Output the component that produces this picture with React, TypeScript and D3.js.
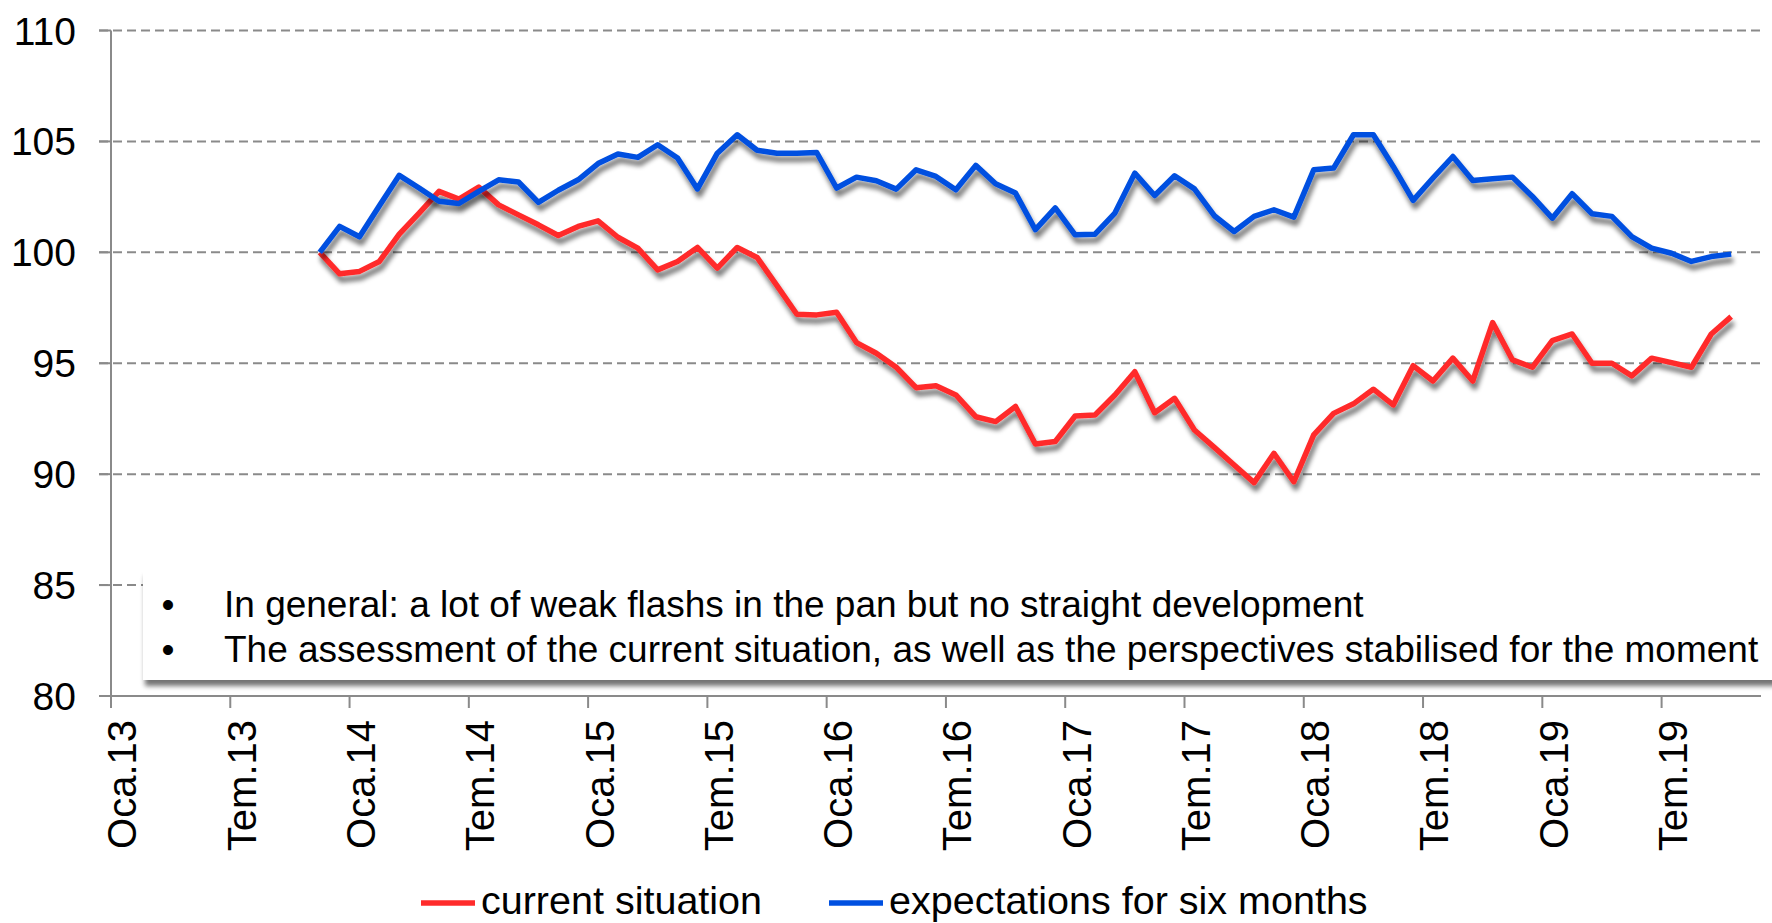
import React, { useEffect, useRef } from 'react'
import * as d3 from 'd3'

// months counted from Jan 2013 (0); data runs Nov 2013 .. Oct 2019
const firstMonth = 10
const tickLabels = ['Oca.13', 'Tem.13', 'Oca.14', 'Tem.14', 'Oca.15', 'Tem.15', 'Oca.16',
  'Tem.16', 'Oca.17', 'Tem.17', 'Oca.18', 'Tem.18', 'Oca.19', 'Tem.19']
const yTicks = [80, 85, 90, 95, 100, 105, 110]

const currentSituation = [
  100.0, 99.03, 99.14, 99.59, 100.82, 101.77, 102.75, 102.4, 102.94, 102.14, 101.69, 101.24,
  100.76, 101.17, 101.42, 100.68, 100.19, 99.21, 99.59, 100.22, 99.29, 100.22, 99.77, 98.5,
  97.21, 97.18, 97.3, 95.93, 95.45, 94.82, 93.9, 93.99, 93.57, 92.59, 92.37, 93.05,
  91.36, 91.47, 92.62, 92.67, 93.57, 94.62, 92.77, 93.42, 91.99, 91.21, 90.41, 89.62,
  90.94, 89.66, 91.77, 92.74, 93.17, 93.83, 93.12, 94.89, 94.2, 95.23, 94.2, 96.83,
  95.15, 94.82, 96.02, 96.32, 95.0, 95.0, 94.43, 95.23, 95.03, 94.82, 96.32, 97.1
]
const expectations = [
  100.0, 101.17, 100.7, 102.1, 103.47, 102.9, 102.3, 102.2, 102.75, 103.27, 103.17, 102.25,
  102.8, 103.27, 104.0, 104.43, 104.28, 104.85, 104.25, 102.86, 104.47, 105.3, 104.6, 104.47,
  104.47, 104.5, 102.9, 103.39, 103.23, 102.85, 103.72, 103.42, 102.82, 103.92, 103.09, 102.67,
  101.02, 102.0, 100.79, 100.82, 101.77, 103.57, 102.56, 103.45, 102.86, 101.65, 100.94, 101.62,
  101.92, 101.59, 103.72, 103.8, 105.3, 105.3, 103.87, 102.34, 103.35, 104.32, 103.24, 103.32,
  103.39, 102.52, 101.54, 102.64, 101.74, 101.62, 100.71, 100.19, 99.96, 99.59, 99.81, 99.92
]
const seriesNames = ['current situation', 'expectations for six months']
const seriesColors = ['#ff2b2b', '#0050e0']
const notes = [
  'In general: a lot of weak flashs in the pan but no straight development',
  'The assessment of the current situation, as well as the perspectives stabilised for the moment'
]

const W = 1772
const H = 923
const FONT = '"Liberation Sans", Arial, sans-serif'

export default function App() {
  const ref = useRef<SVGSVGElement>(null)

  useEffect(() => {
    const svg = d3.select(ref.current)
    svg.selectAll('*').remove()

    const x = d3.scaleLinear().domain([0, 83]).range([111, 1761])
    const y = d3.scaleLinear().domain([80, 110]).range([696, 30.5])

    // soft grey drop shadow under the lines and the note box
    const f = svg.append('defs').append('filter')
      .attr('id', 'shadow')
      .attr('filterUnits', 'userSpaceOnUse')
      .attr('x', 0).attr('y', 0).attr('width', W).attr('height', H)
    f.append('feGaussianBlur').attr('in', 'SourceAlpha').attr('stdDeviation', 2.5).attr('result', 'blur')
    f.append('feOffset').attr('in', 'blur').attr('dx', 2).attr('dy', 6).attr('result', 'off')
    f.append('feComponentTransfer').attr('in', 'off').attr('result', 'shade')
      .append('feFuncA').attr('type', 'linear').attr('slope', 0.55)
    const merge = f.append('feMerge')
    merge.append('feMergeNode').attr('in', 'shade')
    merge.append('feMergeNode').attr('in', 'SourceGraphic')

    // horizontal grid
    svg.append('g')
      .selectAll('line')
      .data(yTicks.filter(d => d > 80))
      .join('line')
      .attr('x1', 99).attr('x2', 1761)
      .attr('y1', d => y(d)).attr('y2', d => y(d))
      .attr('stroke', '#8a8a8a').attr('stroke-width', 2)
      .attr('stroke-dasharray', '9,5')

    // y axis
    svg.append('line')
      .attr('x1', x(0)).attr('x2', x(0)).attr('y1', y(110)).attr('y2', y(80))
      .attr('stroke', '#8a8a8a').attr('stroke-width', 2)
    svg.append('g')
      .selectAll('line')
      .data(yTicks)
      .join('line')
      .attr('x1', 99).attr('x2', x(0))
      .attr('y1', d => y(d)).attr('y2', d => y(d))
      .attr('stroke', '#8a8a8a').attr('stroke-width', 2)
    svg.append('g')
      .selectAll('text')
      .data(yTicks)
      .join('text')
      .attr('x', 76).attr('y', d => y(d)).attr('dy', '0.36em')
      .attr('text-anchor', 'end')
      .attr('font-family', FONT).attr('font-size', 39)
      .text(d => d)

    // x axis
    svg.append('line')
      .attr('x1', x(0)).attr('x2', x(83)).attr('y1', y(80)).attr('y2', y(80))
      .attr('stroke', '#8a8a8a').attr('stroke-width', 2)
    const xt = svg.append('g')
      .selectAll('g')
      .data(tickLabels)
      .join('g')
    xt.append('line')
      .attr('x1', (d, i) => x(i * 6)).attr('x2', (d, i) => x(i * 6))
      .attr('y1', y(80)).attr('y2', y(80) + 12)
      .attr('stroke', '#8a8a8a').attr('stroke-width', 2)
    xt.append('text')
      .attr('transform', (d, i) => `translate(${x(i * 6) + 11},720) rotate(-90)`)
      .attr('text-anchor', 'end')
      .attr('dy', '0.36em')
      .attr('font-family', FONT).attr('font-size', 40)
      .text(d => d)

    // series
    const line = d3.line<number>()
      .x((d, i) => x(firstMonth + i + 0.5))
      .y(d => y(d))
    ;[currentSituation, expectations].forEach((s, k) => {
      svg.append('path')
        .datum(s)
        .attr('d', line)
        .attr('fill', 'none')
        .attr('stroke', seriesColors[k])
        .attr('stroke-width', 5.5)
        .attr('stroke-linejoin', 'round')
        .attr('filter', 'url(#shadow)')
    })

    // text box
    svg.append('rect')
      .attr('x', 143).attr('y', 570).attr('width', 1700).attr('height', 110)
      .attr('fill', '#fff')
      .attr('filter', 'url(#shadow)')
    const nt = svg.append('g')
      .selectAll('g')
      .data(notes)
      .join('g')
    nt.append('text')
      .attr('x', 168).attr('y', (d, i) => 617 + i * 45)
      .attr('text-anchor', 'middle')
      .attr('font-family', FONT).attr('font-size', 37)
      .text('•')
    nt.append('text')
      .attr('x', 224).attr('y', (d, i) => 617 + i * 45)
      .attr('font-family', FONT).attr('font-size', 37)
      .text(d => d)

    // legend
    const legX = [421, 829]
    const lg = svg.append('g')
      .selectAll('g')
      .data(seriesNames)
      .join('g')
    lg.append('line')
      .attr('x1', (d, i) => legX[i]).attr('x2', (d, i) => legX[i] + 54)
      .attr('y1', 903).attr('y2', 903)
      .attr('stroke', (d, i) => seriesColors[i]).attr('stroke-width', 5.5)
    lg.append('text')
      .attr('x', (d, i) => legX[i] + 60).attr('y', 914)
      .attr('font-family', FONT).attr('font-size', 39.5)
      .text(d => d)
  }, [])

  return (
    <svg ref={ref} width={W} height={H}
      style={{ position: 'absolute', left: 0, top: 0, display: 'block', background: '#fff' }} />
  )
}
